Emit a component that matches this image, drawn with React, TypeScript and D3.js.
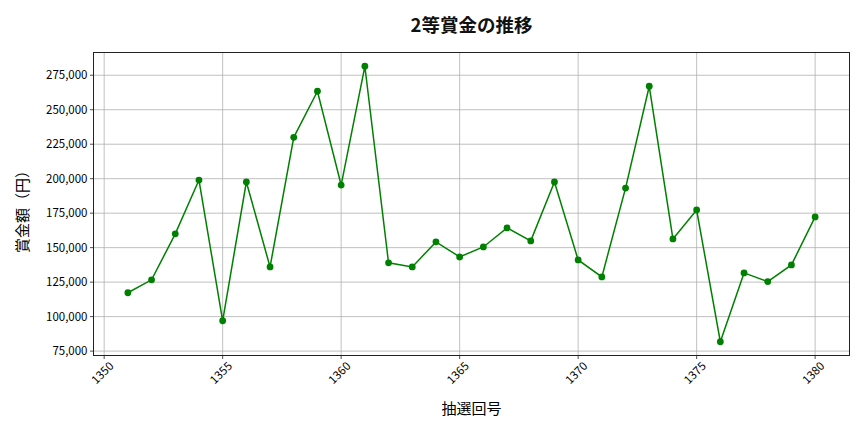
import React from 'react';
import * as d3 from 'd3';

// 抽選回号
const rounds = [
  1351, 1352, 1353, 1354, 1355, 1356, 1357, 1358, 1359, 1360,
  1361, 1362, 1363, 1364, 1365, 1366, 1367, 1368, 1369, 1370,
  1371, 1372, 1373, 1374, 1375, 1376, 1377, 1378, 1379, 1380,
];

// 2等賞金（円）
const prizes = [
  117300, 126700, 160000, 199000, 97000, 197600, 136000, 230000, 263400, 195400,
  281500, 139000, 136000, 154200, 143300, 150500, 164300, 154900, 197600, 141100,
  128800, 193200, 267000, 156300, 177300, 81800, 131700, 125400, 137500, 172300,
];

const xTicks = [1350, 1355, 1360, 1365, 1370, 1375, 1380];
const yTicks = [75000, 100000, 125000, 150000, 175000, 200000, 225000, 250000, 275000];

const titleText = '2等賞金の推移';
const xLabel = '抽選回号';
const yLabel = '賞金額（円）';

const W = 864;
const H = 432;
const margin = { top: 52.5, right: 14.5, bottom: 76.5, left: 93.5 };
const FONT = '"Noto Sans CJK JP", "Noto Sans", sans-serif';

const App = () => {
  const innerW = W - margin.left - margin.right;
  const innerH = H - margin.top - margin.bottom;

  // matplotlib風の5%マージン
  const xMin = d3.min(rounds) as number;
  const xMax = d3.max(rounds) as number;
  const yMin = d3.min(prizes) as number;
  const yMax = d3.max(prizes) as number;
  const xPad = (xMax - xMin) * 0.05;
  const yPad = (yMax - yMin) * 0.05;

  const x = d3.scaleLinear().domain([xMin - xPad, xMax + xPad]).range([0, innerW]);
  const y = d3.scaleLinear().domain([yMin - yPad, yMax + yPad]).range([innerH, 0]);

  const line = d3
    .line<number>()
    .x((_, i) => x(rounds[i]))
    .y((d) => y(d));

  const fmt = d3.format(',');

  return (
    <div style={{ position: 'fixed', left: 0, top: 0 }}>
      <svg width={W} height={H} style={{ display: 'block', background: '#fff' }} fontFamily={FONT}>
        <text x={margin.left + innerW / 2} y={32} textAnchor="middle" fontSize={18.5} fontWeight="bold" fill="#111">
          {titleText}
        </text>
        <g transform={`translate(${margin.left},${margin.top})`}>
          {/* grid */}
          {xTicks.map((t) => (
            <line key={'gx' + t} x1={x(t)} x2={x(t)} y1={0} y2={innerH} stroke="#b0b0b0" strokeWidth={0.8} />
          ))}
          {yTicks.map((t) => (
            <line key={'gy' + t} x1={0} x2={innerW} y1={y(t)} y2={y(t)} stroke="#b0b0b0" strokeWidth={0.8} />
          ))}

          {/* series */}
          <path d={line(prizes) ?? ''} fill="none" stroke="#008000" strokeWidth={1.5} />
          {prizes.map((v, i) => (
            <circle key={'p' + i} cx={x(rounds[i])} cy={y(v)} r={3.4} fill="#008000" />
          ))}

          {/* frame */}
          <rect x={0} y={0} width={innerW} height={innerH} fill="none" stroke="#222" strokeWidth={1} />

          {/* x ticks */}
          {xTicks.map((t) => (
            <g key={'xt' + t} transform={`translate(${x(t)},${innerH})`}>
              <line y1={0} y2={3.5} stroke="#222" strokeWidth={0.8} />
              <text
                transform="translate(-1,18) rotate(-45)"
                textAnchor="middle"
                dominantBaseline="middle"
                fontSize={11.5}
                fill="#000"
              >
                {t}
              </text>
            </g>
          ))}

          {/* y ticks */}
          {yTicks.map((t) => (
            <g key={'yt' + t} transform={`translate(0,${y(t)})`}>
              <line x1={-3.5} x2={0} stroke="#222" strokeWidth={0.8} />
              <text x={-6} dy="0.35em" textAnchor="end" fontSize={11.5} fill="#000">
                {fmt(t)}
              </text>
            </g>
          ))}

          {/* axis labels */}
          <text x={innerW / 2} y={innerH + 58} textAnchor="middle" fontSize={15} fill="#000">
            {xLabel}
          </text>
          <text
            transform={`translate(${-66},${innerH / 2 + 4}) rotate(-90)`}
            textAnchor="middle"
            fontSize={15}
            fill="#000"
          >
            {yLabel}
          </text>
        </g>
      </svg>
    </div>
  );
};

export default App;
